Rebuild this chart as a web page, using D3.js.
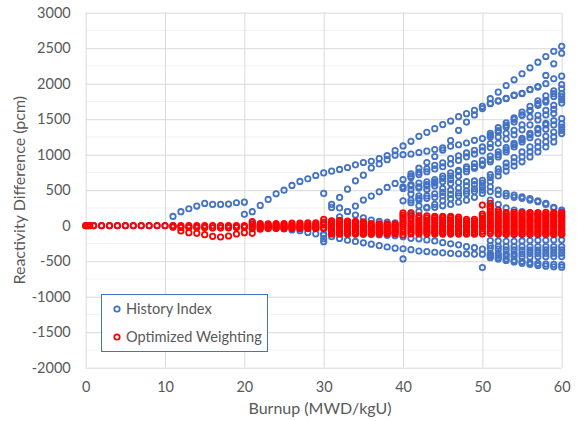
<!DOCTYPE html>
<html>
<head>
<meta charset="utf-8">
<script src="https://cdn.jsdelivr.net/npm/d3@7"></script>
<style>
  body { margin: 0; background: #fff; }
  text { font-family: Lato, "Open Sans", sans-serif; fill: #595959; }
</style>
</head>
<body>
<div id="chart"></div>
<script>
// tick labels
var xTicks = [0, 10, 20, 30, 40, 50, 60],
    yTicks = [-2000, -1500, -1000, -500, 0, 500, 1000, 1500, 2000, 2500, 3000];

// first steps, before any branch
var earlyBurnup = [0, 0.25, 0.5, 1, 2, 3, 4, 5, 6, 7, 8, 9, 10],
    earlyBlue = [0, 0, 0, 0, 0, 0, 0, 0, 0, 0, 0, 0, 0],
    earlyRed = [0, 0, 0, 0, 0, 0, 0, 0, 0, 0, 0, 0, 0];

// History Index, one entry per case: first burnup + values at every 1 MWD/kgU
var blue10 = [
  {x0: 11, v: [130, 197, 239, 277, 314, 300, 300, 305, 323, 332]},
  {x0: 11, v: [0, -10, -20, -20, -20, -30, -30, -30, -20, -20]}
];
var blue20 = [
  {x0: 20, v: [160, 197, 286, 370, 449, 500, 567, 623, 660, 707, 744]},
  {x0: 21, v: [48, -14, -20, -30, -45, -60, -70, -95, -115, -131]},
  {x0: 21, v: [20, 10, 5, 0, -5, -10, -10, -15, -20, 34]}
];
var blue30 = [
  {x0: 31, v: [768, 792, 820, 857, 890, 908, 946, 988, 1058, 1123]},
  {x0: 30, v: [455, 258, 250, 200, 150, 110, 80, 60, 50, 40, 30]},
  {x0: 31, v: [300, 398, 515, 632, 712, 814, 870, 930, 993, 1000]},
  {x0: 31, v: [60, 126, 200, 276, 361, 417, 477, 539, 595, 651]},
  {x0: 30, v: [-183, -154, -180, -205, -222, -241, -260, -280, -300, -316, -325]},
  {x0: 30, v: [-117, -100, -110, -110, -115, -120, -125, -130, -135, -140, -155]},
  {x0: 30, v: [-225]}
];
var blue40 = [
  {x0: 41, v: [1189, 1259, 1315, 1367, 1424, 1474, 1536, 1578, 1624, 1680]},
  {x0: 41, v: [1010, 1030, 1050, 1073, 1095, 1119, 1140, 1165, 1203, 1227]},
  {x0: 41, v: [730, 810, 890, 975, 1063, 1200, 1344, 1460, 1560, 1650]},
  {x0: 41, v: [698, 754, 800, 850, 885, 946, 985, 1025, 1063, 1109]},
  {x0: 41, v: [680, 720, 760, 800, 830, 870, 920, 970, 1010, 1053]},
  {x0: 40, v: [548, 580, 600, 618, 650, 700, 744, 780, 830, 876, 922]},
  {x0: 40, v: [525, 560, 548, 580, 618, 665, 700, 763, 800, 830, 866]},
  {x0: 41, v: [510, 530, 560, 600, 620, 650, 700, 760, 810, 850]},
  {x0: 40, v: [351, 445, 420, 510, 560, 525, 595, 610, 620, 630, 640]},
  {x0: 41, v: [361, 385, 420, 450, 470, 500, 530, 560, 580, 600]},
  {x0: 41, v: [323, 361, 385, 400, 420, 440, 460, 490, 520, 550]},
  {x0: 41, v: [183, 281, 259, 300, 350, 380, 420, 450, 480, 500]},
  {x0: 41, v: [150, 200, 250, 259, 280, 300, 330, 360, 400, 455]},
  {x0: 41, v: [-178, -185, -200, -215, -239, -255, -270, -295, -310, -330]},
  {x0: 41, v: [-337, -358, -365, -374, -383, -390, -395, -398, -400, -402]},
  {x0: 40, v: [-468]},
  {x0: 50, v: [-590]}
];
var blue50 = [
  {x0: 51, v: [1789, 1881, 1975, 2055, 2140, 2224, 2303, 2383, 2457, 2527]},
  {x0: 51, v: [1718, 1755, 1789, 1835, 1859, 1915, 1952, 2000, 2069, 2106]},
  {x0: 51, v: [1725, 1760, 1795, 1838, 1865, 1920, 1960, 2116, 2280, 2429]},
  {x0: 51, v: [1300, 1380, 1450, 1520, 1600, 1680, 1760, 1830, 1900, 1989]},
  {x0: 51, v: [1250, 1320, 1390, 1460, 1554, 1620, 1695, 1741, 1859, 1929]},
  {x0: 51, v: [1273, 1340, 1414, 1498, 1560, 1624, 1718, 1764, 1820, 1859]},
  {x0: 51, v: [1156, 1250, 1300, 1344, 1420, 1530, 1554, 1624, 1695, 1820]},
  {x0: 51, v: [1100, 1160, 1220, 1280, 1350, 1420, 1490, 1560, 1640, 1774]},
  {x0: 51, v: [980, 1040, 1100, 1160, 1230, 1300, 1370, 1440, 1580, 1727]},
  {x0: 51, v: [930, 1000, 1070, 1140, 1210, 1280, 1350, 1420, 1480, 1508]},
  {x0: 51, v: [900, 969, 1039, 1109, 1180, 1240, 1300, 1360, 1420, 1438]},
  {x0: 51, v: [720, 800, 880, 960, 1039, 1110, 1180, 1260, 1320, 1390]},
  {x0: 51, v: [680, 760, 830, 899, 969, 1039, 1109, 1180, 1250, 1344]},
  {x0: 51, v: [620, 700, 770, 840, 900, 969, 1039, 1109, 1180, 1297]},
  {x0: 51, v: [480, 440, 420, 400, 385, 361, 337, 314, 260, 220]},
  {x0: 51, v: [548, 500, 455, 430, 407, 380, 350, 300, 250, 200]},
  {x0: 51, v: [360, 300, 250, 220, 200, 180, 160, 150, 140, 130]},
  {x0: 51, v: [-210, -215, -220, -220, -215, -210, -205, -205, -200, -201]},
  {x0: 51, v: [-280, -290, -295, -295, -295, -295, -295, -295, -295, -295]},
  {x0: 51, v: [-318, -330, -341, -341, -345, -345, -345, -341, -341, -341]},
  {x0: 51, v: [-388, -390, -395, -395, -395, -390, -390, -390, -388, -388]},
  {x0: 51, v: [-410, -420, -430, -435, -440, -440, -438, -436, -435, -435]},
  {x0: 51, v: [-430, -450, -470, -490, -505, -520, -530, -540, -545, -552]},
  {x0: 51, v: [-450, -470, -490, -510, -530, -545, -560, -570, -578, -584]}
];

// Optimized Weighting
var red10 = [
  {x0: 11, v: [0, 0, 0, 0, 0, 0, 0, 0, 0, 0]},
  {x0: 11, v: [-14, -25, -25, -28, -28, -30, -30, -28, -25, -20]},
  {x0: 11, v: [-20, -74, -98, -107, -126, -150, -159, -145, -117, -98]}
];
var red20 = [
  {x0: 21, v: [56, 30, 25, 30, 30, 35, 35, 40, 40, 90]},
  {x0: 21, v: [20, 10, 5, 10, 10, 10, 15, 15, 15, 50]},
  {x0: 21, v: [-10, -10, -10, -10, -10, -10, -10, -10, -10, 10]},
  {x0: 21, v: [-40, -30, -30, -30, -30, -30, -35, -35, -35, -30]},
  {x0: 21, v: [-107, -50, -40, -40, -40, -40, -40, -40, -40, -40]}
];
var red30 = [
  {x0: 31, v: [70, 75, 65, 60, 55, 30, 25, 25, 25, 150]},
  {x0: 31, v: [45, 50, 45, 40, 35, 10, 5, 5, 5, 120]},
  {x0: 31, v: [20, 25, 20, 15, 15, -10, -15, -15, -15, 90]},
  {x0: 31, v: [-5, 0, -5, -10, -10, -30, -30, -30, -30, 55]},
  {x0: 31, v: [-30, -30, -30, -35, -35, -50, -50, -50, -50, 20]},
  {x0: 31, v: [-55, -55, -55, -60, -60, -65, -65, -70, -70, -15]},
  {x0: 31, v: [-80, -80, -80, -85, -85, -85, -85, -90, -90, -50]},
  {x0: 31, v: [-105, -105, -105, -105, -105, -100, -100, -100, -100, -90]},
  {x0: 31, v: [-120, -120, -120, -118, -118, -115, -115, -115, -115, -131]},
  {x0: 40, v: [180]}
];
var red40 = [
  {x0: 41, v: [174, 140, 140, 130, 130, 130, 120, 90, 90, 164]},
  {x0: 41, v: [135, 110, 110, 105, 105, 105, 95, 65, 65, 135]},
  {x0: 41, v: [100, 80, 80, 75, 75, 75, 70, 40, 40, 105]},
  {x0: 41, v: [65, 50, 50, 45, 45, 45, 40, 15, 15, 75]},
  {x0: 41, v: [30, 20, 20, 15, 15, 15, 10, -10, -10, 45]},
  {x0: 41, v: [0, -10, -10, -15, -15, -15, -20, -35, -35, 15]},
  {x0: 41, v: [-30, -40, -40, -45, -45, -45, -45, -60, -60, -15]},
  {x0: 41, v: [-60, -65, -65, -70, -70, -70, -70, -85, -85, -45]},
  {x0: 41, v: [-90, -90, -90, -95, -95, -95, -95, -105, -105, -80]},
  {x0: 41, v: [-115, -115, -115, -118, -118, -118, -118, -120, -120, -115]},
  {x0: 50, v: [290, 267]}
];
var red50 = [
  {x0: 51, v: [314, 220, 185, 188, 185, 186, 185, 188, 185, 186]},
  {x0: 51, v: [270, 190, 160, 162, 160, 160, 160, 162, 160, 160]},
  {x0: 51, v: [230, 160, 135, 138, 135, 136, 135, 138, 135, 136]},
  {x0: 51, v: [190, 130, 110, 112, 110, 110, 110, 112, 110, 110]},
  {x0: 51, v: [160, 100, 85, 86, 85, 85, 85, 86, 85, 85]},
  {x0: 51, v: [130, 75, 60, 60, 60, 60, 60, 60, 60, 60]},
  {x0: 51, v: [100, 50, 35, 35, 35, 35, 35, 35, 35, 35]},
  {x0: 51, v: [70, 25, 10, 10, 10, 10, 10, 10, 10, 10]},
  {x0: 51, v: [40, 0, -15, -15, -15, -15, -15, -15, -15, -15]},
  {x0: 51, v: [10, -25, -40, -40, -40, -40, -40, -40, -40, -40]},
  {x0: 51, v: [-20, -50, -65, -65, -65, -65, -65, -65, -65, -65]},
  {x0: 51, v: [-50, -75, -90, -90, -90, -90, -90, -90, -90, -90]},
  {x0: 51, v: [-80, -100, -112, -112, -112, -112, -112, -112, -112, -112]},
  {x0: 51, v: [-110, -120, -125, -125, -125, -125, -125, -125, -125, -125]}
];

var width = 577, height = 421;
var plot = {left: 85.7, right: 561.7, top: 12.7, bottom: 367.7};

var x = d3.scaleLinear().domain([0, 60]).range([plot.left, plot.right]);
var y = d3.scaleLinear().domain([-2000, 3000]).range([plot.bottom, plot.top]);

function toPoints(lines) {
  return lines.flatMap(function(l) {
    return l.v.map(function(v, i) { return {x: l.x0 + i, y: v}; });
  });
}

var bluePts = earlyBurnup.map(function(b, i) { return {x: b, y: earlyBlue[i]}; })
  .concat(toPoints(blue10), toPoints(blue20), toPoints(blue30), toPoints(blue40), toPoints(blue50));
var redPts = earlyBurnup.map(function(b, i) { return {x: b, y: earlyRed[i]}; })
  .concat(toPoints(red10), toPoints(red20), toPoints(red30), toPoints(red40), toPoints(red50));

var svg = d3.select("#chart").append("svg").attr("width", width).attr("height", height);

// minor gridlines every 250
var minor = d3.range(-1750, 3000, 500);
svg.append("g").selectAll("line").data(minor).enter().append("line")
  .attr("x1", plot.left).attr("x2", plot.right)
  .attr("y1", function(d) { return y(d); }).attr("y2", function(d) { return y(d); })
  .attr("stroke", "#f2f2f2").attr("stroke-width", 1);

// major gridlines
svg.append("g")
  .attr("transform", "translate(" + plot.left + ",0)")
  .call(d3.axisLeft(y).tickValues(yTicks).tickSize(-(plot.right - plot.left)).tickFormat(""))
  .call(function(g) { g.select(".domain").remove(); })
  .selectAll("line").attr("stroke", "#d9d9d9");

svg.append("g")
  .attr("transform", "translate(0," + plot.bottom + ")")
  .call(d3.axisBottom(x).tickValues(xTicks).tickSize(-(plot.bottom - plot.top)).tickFormat(""))
  .call(function(g) { g.select(".domain").remove(); })
  .selectAll("line").attr("stroke", "#d9d9d9");

// tick labels
var plain = function(d) { return String(d); };
svg.append("g")
  .attr("transform", "translate(" + (plot.left - 15) + ",0)")
  .call(d3.axisLeft(y).tickValues(yTicks).tickSize(0).tickPadding(0).tickFormat(plain))
  .call(function(g) { g.select(".domain").remove(); })
  .selectAll("text").attr("font-size", 14.5).attr("fill", "#595959");

svg.append("g")
  .attr("transform", "translate(0," + (plot.bottom + 14) + ")")
  .call(d3.axisBottom(x).tickValues(xTicks).tickSize(0).tickPadding(0).tickFormat(plain))
  .call(function(g) { g.select(".domain").remove(); })
  .selectAll("text").attr("font-size", 14.5).attr("fill", "#595959");

// points
svg.append("g").selectAll("circle").data(bluePts).enter().append("circle")
  .attr("cx", function(d) { return x(d.x); })
  .attr("cy", function(d) { return y(d.y); })
  .attr("r", 2.7)
  .attr("fill", "none")
  .attr("stroke", "#4472C4")
  .attr("stroke-width", 1.8);

svg.append("g").selectAll("circle").data(redPts).enter().append("circle")
  .attr("cx", function(d) { return x(d.x); })
  .attr("cy", function(d) { return y(d.y); })
  .attr("r", 2.7)
  .attr("fill", "none")
  .attr("stroke", "#FF0000")
  .attr("stroke-width", 1.8);

// axis titles
svg.append("text")
  .attr("x", 320)
  .attr("y", 414)
  .attr("text-anchor", "middle")
  .attr("font-size", 16)
  .text("Burnup (MWD/kgU)");

svg.append("text")
  .attr("transform", "translate(25," + ((plot.top + plot.bottom) / 2) + ") rotate(-90)")
  .attr("text-anchor", "middle")
  .attr("font-size", 16)
  .text("Reactivity Difference (pcm)");

// legend
var legend = svg.append("g");
legend.append("rect")
  .attr("x", 101.5).attr("y", 294.5).attr("width", 166).attr("height", 57)
  .attr("fill", "#fff").attr("stroke", "#4472C4").attr("stroke-width", 1);

var legendItems = [
  {label: "History Index", color: "#4472C4"},
  {label: "Optimized Weighting", color: "#FF0000"}
];
legend.selectAll(".item").data(legendItems).enter().append("g")
  .attr("class", "item")
  .attr("transform", function(d, i) { return "translate(117," + (309 + i * 28) + ")"; })
  .each(function(d) {
    var g = d3.select(this);
    g.append("circle").attr("r", 2.7).attr("fill", "none")
      .attr("stroke", d.color).attr("stroke-width", 1.8);
    g.append("text").attr("x", 9).attr("dy", "0.35em")
      .attr("font-size", 14.6).text(d.label);
  });
</script>
</body>
</html>
